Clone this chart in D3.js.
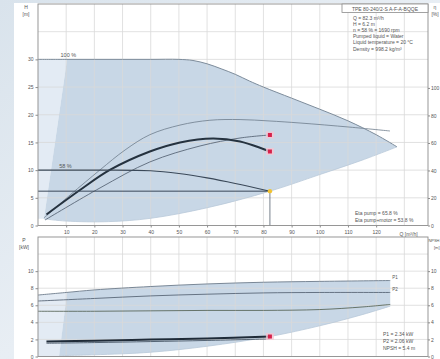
<!DOCTYPE html>
<html><head><meta charset="utf-8">
<script src="https://cdn.jsdelivr.net/npm/d3@7"></script>
<style>html,body{margin:0;padding:0;background:#e3eaf1;overflow:hidden}svg{display:block}</style>
</head><body><svg id="c" width="440" height="359"></svg>
<script>
// ---- axis ticks ----
const qTicks = [10, 20, 30, 40, 50, 60, 70, 80, 90, 100, 110, 120];
const hTicks = [0, 5, 10, 15, 20, 25, 30];
const etaTicks = [0, 20, 40, 60, 80, 100];
const pTicks = [0, 2, 4, 6, 8, 10];

// ---- head curves ----
const qMax = [0, 10, 20, 30, 40, 50, 55, 60, 65, 70, 75, 80, 90, 100, 110, 120, 127.4];
const hMax = [30, 30, 30, 30, 30, 30, 29.8, 29.2, 28.3, 27.3, 26.1, 25.0, 23.0, 21.0, 18.9, 16.4, 14.2];
const qLow = [2.1, 10, 25, 40, 60, 82.3, 100, 115, 127.4];
const hLow = [1.2, 0.8, 0.7, 1.3, 3.2, 6.2, 9.2, 11.8, 14.2];
const qMinFlow = [10.3, 2.1];
const hMinFlow = [30, 1.2];
const q58 = [0, 20, 40, 50, 60, 70, 82.3];
const h58 = [10.0, 10.0, 9.9, 9.4, 8.6, 7.6, 6.2];

// ---- efficiency curves ----
const qEtaMax = [2.1, 11.4, 22, 30.9, 39.7, 50.4, 61, 71.7, 82, 93, 110.7, 124.9];
const etaMax = [5.5, 22.2, 40.4, 54.9, 66, 73, 76.5, 77, 76, 74.5, 71.5, 68.7];
const qEtaPump = [2.5, 22, 39.7, 57.5, 71.7, 82.3];
const etaPump = [4, 27.3, 46.2, 57.8, 63.6, 65.8];
const qEtaTot = [3, 14.9, 25.5, 39.7, 50.4, 62.1, 71.7, 82.3];
const etaTot = [8, 25.8, 40.4, 53.8, 60.4, 63.3, 61.1, 53.8];

// ---- power / NPSH curves ----
const qP1Max = [0, 10, 20, 40, 60, 80, 100, 125];
const p1Max = [7.2, 7.5, 7.8, 8.2, 8.5, 8.7, 8.8, 8.9];
const qP2Max = [0, 20, 40, 60, 80, 100, 125];
const p2Max = [6.5, 6.8, 7.1, 7.3, 7.45, 7.5, 7.5];
const qPLow = [7.5, 20, 40, 60, 82.3, 100, 115, 125];
const pLow = [0.1, 0.2, 0.5, 1.2, 2.34, 3.6, 4.9, 5.9];
const qNpsh = [0, 20, 40, 60, 80, 100, 115, 125];
const npsh = [5.3, 5.3, 5.35, 5.4, 5.4, 5.5, 5.8, 6.1];
const qP1 = [3, 20, 40, 60, 82.3];
const p1 = [1.75, 1.85, 1.98, 2.12, 2.34];
const qP2 = [3, 20, 40, 60, 82.3];
const p2 = [1.55, 1.63, 1.75, 1.88, 2.06];

// ---- duty point ----
const dutyQ = 82.3, dutyH = 6.2, dutyEtaPump = 65.8, dutyEtaTot = 53.8, dutyP1 = 2.34, dutyP2 = 2.06, dutyNpsh = 5.4;
const speedPct = 58;
const pumpName = "TPE 80-240/2-S A-F-A-BQQE";

const zip = (a, b) => a.map((v, i) => [v, b[i]]);

const svg = d3.select('#c');
const font = '"Liberation Sans", Arial, sans-serif';
const txtCol = '#555';

// page card
const defs = svg.append('defs');
const g1 = defs.append('linearGradient').attr('id', 'bg').attr('x1', 0).attr('y1', 0).attr('x2', 1).attr('y2', 1);
g1.append('stop').attr('offset', 0).attr('stop-color', '#d9e3ec');
g1.append('stop').attr('offset', 0.5).attr('stop-color', '#e8eef4');
g1.append('stop').attr('offset', 1).attr('stop-color', '#dbe4ed');
svg.append('rect').attr('width', 440).attr('height', 359).attr('fill', 'url(#bg)');
svg.append('rect').attr('x', 14).attr('y', 3).attr('width', 426).attr('height', 356).attr('fill', '#fff');

// scales
const x = d3.scaleLinear().domain([0, 138.4]).range([38, 428]);
const yH = d3.scaleLinear().domain([0, 40]).range([225.5, 4]);
const yEta = d3.scaleLinear().domain([0, 161]).range([225.5, 4]);
const yP = d3.scaleLinear().domain([0, 14]).range([356.5, 237]);

const gridCol = '#d9d9d9';
// grids
function grid(yScale, hVals, y0, y1) {
  const g = svg.append('g');
  g.selectAll('.v').data(qTicks.concat([130])).enter().append('line')
    .attr('x1', d => x(d)).attr('x2', d => x(d)).attr('y1', y0).attr('y2', y1)
    .attr('stroke', gridCol).attr('stroke-width', 0.8);
  g.selectAll('.h').data(hVals).enter().append('line')
    .attr('x1', x(0)).attr('x2', x(138.4)).attr('y1', d => yScale(d)).attr('y2', d => yScale(d))
    .attr('stroke', gridCol).attr('stroke-width', 0.8);
}

const cr = d3.curveCatmullRom.alpha(0.5);
function pathOf(xs, ys, yScale) {
  return d3.line().x(d => x(d[0])).y(d => yScale(d[1])).curve(cr)(zip(xs, ys));
}

// ===== top chart: head / efficiency =====
// light region left of minimum flow
svg.append('path')
  .attr('d', d3.line().x(d => x(d[0])).y(d => yH(d[1]))([[0, 30], [qMinFlow[0], hMinFlow[0]], [qMinFlow[1], hMinFlow[1]], [0, hMinFlow[1]]]) + 'Z')
  .attr('fill', '#e3ebf4');
// operating range
{
  const up = qMax.map((q, i) => [q, hMax[i]]).filter(d => d[0] > qMinFlow[0]);
  up.unshift([qMinFlow[0], hMinFlow[0]]);
  const lo = zip(qLow, hLow).reverse();
  const ln = d3.line().x(d => x(d[0])).y(d => yH(d[1])).curve(cr);
  svg.append('path').attr('d', ln(up) + ln(lo).replace(/^M/, 'L') + 'Z').attr('fill', '#c8d7e6');
}
grid(yH, [5, 10, 15, 20, 25, 30, 35], 4, 225.5);
svg.append('path').attr('d', pathOf(qLow, hLow, yH)).attr('fill', 'none').attr('stroke', '#b9c9d9').attr('stroke-width', 0.8);

// efficiency curves
svg.append('path').attr('d', pathOf(qEtaMax, etaMax, yEta)).attr('fill', 'none').attr('stroke', '#6d7c8b').attr('stroke-width', 0.8);
svg.append('path').attr('d', pathOf(qEtaPump, etaPump, yEta)).attr('fill', 'none').attr('stroke', '#5a6878').attr('stroke-width', 0.9);
svg.append('path').attr('d', pathOf(qEtaTot, etaTot, yEta)).attr('fill', 'none').attr('stroke', '#25323f').attr('stroke-width', 2);

// 100 % head curve
svg.append('path').attr('d', pathOf(qMax, hMax, yH)).attr('fill', 'none').attr('stroke', '#7d8c9b').attr('stroke-width', 1);
// reduced speed curve
svg.append('path').attr('d', pathOf(q58, h58, yH)).attr('fill', 'none').attr('stroke', '#3a4858').attr('stroke-width', 1.1);
// set point line and duty drop line
svg.append('line').attr('x1', x(0)).attr('x2', x(dutyQ)).attr('y1', yH(dutyH)).attr('y2', yH(dutyH)).attr('stroke', '#3a4858').attr('stroke-width', 1);
svg.append('line').attr('x1', x(dutyQ)).attr('x2', x(dutyQ)).attr('y1', yH(dutyH)).attr('y2', yH(0)).attr('stroke', '#55626f').attr('stroke-width', 0.8);

// markers
function marker(cx, cy) {
  svg.append('rect').attr('x', cx - 4).attr('y', cy - 3.5).attr('width', 8).attr('height', 7).attr('fill', '#f4c6d2').attr('opacity', 0.8);
  svg.append('rect').attr('x', cx - 2).attr('y', cy - 2).attr('width', 4).attr('height', 4).attr('fill', '#d6204a');
}
marker(x(dutyQ), yEta(dutyEtaPump));
marker(x(dutyQ), yEta(dutyEtaTot));
svg.append('circle').attr('cx', x(dutyQ)).attr('cy', yH(dutyH)).attr('r', 2.2).attr('fill', '#f2c230');

// curve labels
function txt(t, xx, yy, anchor, size, col) {
  return svg.append('text').attr('x', xx).attr('y', yy).attr('text-anchor', anchor || 'start')
    .attr('font-family', font).attr('font-size', size || 5.5).attr('fill', col || txtCol).text(t);
}
txt('100 %', x(8), yH(30) - 2.5);
txt(speedPct + ' %', x(7.5), yH(10) - 2.5);

// border
svg.append('rect').attr('x', x(0)).attr('y', 4).attr('width', x(138.4) - x(0)).attr('height', 221.5).attr('fill', 'none').attr('stroke', '#8c8c8c').attr('stroke-width', 0.9);

// axes
function styleAxis(g) {
  g.select('.domain').remove();
  g.selectAll('line').attr('stroke', '#8c8c8c');
  g.selectAll('text').attr('font-family', font).attr('font-size', 5).attr('fill', txtCol);
}
svg.append('g').attr('transform', `translate(${x(0)},0)`).call(d3.axisLeft(yH).tickValues(hTicks).tickSize(2.5).tickPadding(2)).call(styleAxis);
svg.append('g').attr('transform', `translate(${x(138.4)},0)`).call(d3.axisRight(yEta).tickValues(etaTicks).tickSize(2).tickPadding(1)).call(styleAxis);
svg.append('g').attr('transform', `translate(0,225.5)`).call(d3.axisBottom(x).tickValues(qTicks).tickSize(2).tickPadding(2.5)).call(styleAxis);
txt('Q [m³/h]', x(131.5), 235.5, 'middle', 5);
txt('H', 26, 9, 'middle', 5);
txt('[m]', 26, 15.5, 'middle', 5);
txt('η', 435, 9, 'middle', 5);
txt('[%]', 435, 15.5, 'middle', 5);

// info block
svg.append('rect').attr('x', 342).attr('y', 4).attr('width', 86).attr('height', 8.5).attr('fill', '#fff').attr('stroke', '#8c8c8c').attr('stroke-width', 0.8);
txt(pumpName, 385, 10.5, 'middle', 5);
const info = [
  `Q = ${dutyQ.toFixed(1)} m³/h`,
  `H = ${dutyH.toFixed(1)} m`,
  `n = ${speedPct} % = 1690 rpm`,
  'Pumped liquid = Water',
  'Liquid temperature = 20 °C',
  'Density = 998.2 kg/m³'
];
info.forEach((t, i) => txt(t, 353, 19.5 + i * 6.2, 'start', 5));
txt(`Eta pump = ${dutyEtaPump.toFixed(1)} %`, 355, 214.5, 'start', 5);
txt(`Eta pump+motor = ${dutyEtaTot.toFixed(1)} %`, 355, 221.5, 'start', 5);

// ===== bottom chart: power / NPSH =====
{
  const ln = d3.line().x(d => x(d[0])).y(d => yP(d[1])).curve(cr);
  const p1At10 = 7.5;
  svg.append('path')
    .attr('d', d3.line().x(d => x(d[0])).y(d => yP(d[1]))([[0, p1Max[0]], [10.3, p1At10], [qPLow[0], 0], [0, 0]]) + 'Z')
    .attr('fill', '#e3ebf4');
  const up = zip(qP1Max, p1Max).filter(d => d[0] > 10.3);
  up.unshift([10.3, p1At10]);
  const lo = zip(qPLow, pLow).reverse();
  svg.append('path').attr('d', ln(up) + ln(lo).replace(/^M/, 'L') + 'Z').attr('fill', '#c8d7e6');
}
grid(yP, [2, 4, 6, 8, 10, 12], 237, 356.5);
svg.append('path').attr('d', pathOf(qPLow, pLow, yP)).attr('fill', 'none').attr('stroke', '#b9c9d9').attr('stroke-width', 0.8);
svg.append('path').attr('d', pathOf(qP1Max, p1Max, yP)).attr('fill', 'none').attr('stroke', '#6d7c8b').attr('stroke-width', 0.9);
svg.append('path').attr('d', pathOf(qP2Max, p2Max, yP)).attr('fill', 'none').attr('stroke', '#5a6878').attr('stroke-width', 0.9);
svg.append('path').attr('d', pathOf(qNpsh, npsh, yP)).attr('fill', 'none').attr('stroke', '#4d5b4a').attr('stroke-width', 0.8);
svg.append('path').attr('d', pathOf(qP2, p2, yP)).attr('fill', 'none').attr('stroke', '#4a5868').attr('stroke-width', 0.9);
svg.append('path').attr('d', pathOf(qP1, p1, yP)).attr('fill', 'none').attr('stroke', '#1f2b38').attr('stroke-width', 2);
marker(x(dutyQ), yP(dutyP1));
txt('P1', x(125) + 2, yP(8.9) - 2, 'start', 4.5);
txt('P2', x(125) + 2, yP(7.5) - 1, 'start', 4.5);

svg.append('rect').attr('x', x(0)).attr('y', 237).attr('width', x(138.4) - x(0)).attr('height', 119.5).attr('fill', 'none').attr('stroke', '#8c8c8c').attr('stroke-width', 0.9);
svg.append('g').attr('transform', `translate(${x(0)},0)`).call(d3.axisLeft(yP).tickValues(pTicks).tickSize(2.5).tickPadding(2)).call(styleAxis);
svg.append('g').attr('transform', `translate(${x(138.4)},0)`).call(d3.axisRight(yP).tickValues(pTicks).tickSize(2).tickPadding(1)).call(styleAxis);
txt('P', 24, 242, 'middle', 5);
txt('[kW]', 24, 248.5, 'middle', 5);
txt('NPSH', 439.5, 242, 'end', 4);
txt('[m]', 439.5, 248.5, 'end', 4);

txt(`P1 = ${dutyP1.toFixed(2)} kW`, 383, 336, 'start', 5);
txt(`P2 = ${dutyP2.toFixed(2)} kW`, 383, 343, 'start', 5);
txt(`NPSH = ${dutyNpsh.toFixed(1)} m`, 383, 350, 'start', 5);
</script></body></html>
